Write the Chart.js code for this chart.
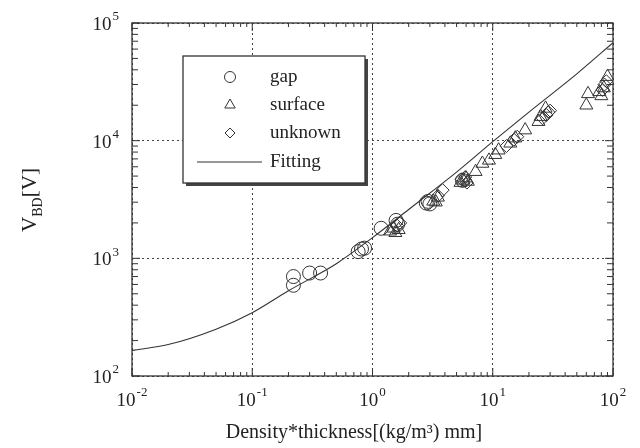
<!DOCTYPE html>
<html>
<head>
<meta charset="utf-8">
<script src="https://cdn.jsdelivr.net/npm/chart.js@4.4.0/dist/chart.umd.min.js"></script>
<style>
  body { margin: 0; background: #fff; }
</style>
</head>
<body>
<canvas id="chart" width="640" height="448"></canvas>
<script>
// data
const gapX = [0.22, 0.22, 0.30, 0.37, 0.76, 0.81, 0.86, 1.18, 1.57, 1.62, 2.8, 2.9, 3.0, 5.6];
const gapY = [700, 590, 750, 750, 1140, 1200, 1220, 1800, 2100, 1950, 2950, 3050, 2900, 4600];

const surfaceX = [1.4, 1.5, 1.55, 1.65, 3.2, 3.36, 3.5, 5.4, 5.7, 6.0, 6.2, 7.2, 8.2, 9.3, 10.5, 11.2, 14, 15.4, 18.6, 24, 25, 27.5, 60, 62, 77, 80, 84, 90];
const surfaceY = [1700, 1800, 1650, 1750, 3050, 3000, 3300, 4400, 4600, 4800, 4500, 5450, 6400, 6800, 7600, 8300, 9500, 10500, 12300, 14500, 16000, 18800, 20000, 25000, 26000, 24000, 28000, 35000];

const unknownX = [1.6, 1.7, 3.5, 3.83, 5.5, 5.9, 6.1, 13, 15, 16, 26, 28, 29, 30, 82, 85, 88];
const unknownY = [1900, 2000, 3400, 3800, 4700, 4900, 4400, 9000, 10200, 10800, 15500, 16500, 17500, 18000, 27000, 30000, 32000];

const fitX = [0.01, 0.02, 0.05, 0.1, 0.2, 0.5, 1, 2, 5, 10, 20, 50, 100];
const fitY = [165, 185, 250, 345, 530, 900, 1500, 2600, 5400, 9800, 17500, 37000, 68000];

const xDecades = [0.01, 0.1, 1, 10, 100];
const xExponents = ["-2", "-1", "0", "1", "2"];
const yDecades = [100, 1000, 10000, 100000];
const yExponents = ["2", "3", "4", "5"];

const INK = "#333";
const SERIF = "'Liberation Serif', 'DejaVu Serif', serif";

function toPoints(xs, ys) {
    return xs.map((x, i) => ({ x: x, y: ys[i] }));
}

function drawPow(ctx, exp, cx, cy, align) {
    ctx.font = "19px " + SERIF;
    const wBase = ctx.measureText("10").width;
    ctx.font = "13px " + SERIF;
    const wExp = ctx.measureText(exp).width;
    const total = wBase + wExp + 1;
    let left = align === "right" ? cx - total : cx - total / 2;
    ctx.textBaseline = "middle";
    ctx.textAlign = "left";
    ctx.font = "19px " + SERIF;
    ctx.fillText("10", left, cy + 2);
    ctx.font = "13px " + SERIF;
    ctx.fillText(exp, left + wBase + 1, cy - 6);
}

const framePlugin = {
    id: "frame",
    afterDraw(chart) {
        const ctx = chart.ctx;
        const a = chart.chartArea;
        const xs = chart.scales.x;
        const ys = chart.scales.y;
        ctx.save();
        ctx.strokeStyle = INK;
        ctx.fillStyle = INK;
        ctx.lineWidth = 1.3;
        ctx.strokeRect(a.left, a.top, a.right - a.left, a.bottom - a.top);

        ctx.lineWidth = 1;
        ctx.beginPath();
        // x ticks top and bottom
        xDecades.forEach((d, i) => {
            const px = xs.getPixelForValue(d);
            ctx.moveTo(px, a.bottom); ctx.lineTo(px, a.bottom - 8);
            ctx.moveTo(px, a.top); ctx.lineTo(px, a.top + 8);
            if (i < xDecades.length - 1) {
                for (let m = 2; m <= 9; m++) {
                    const p = xs.getPixelForValue(d * m);
                    ctx.moveTo(p, a.bottom); ctx.lineTo(p, a.bottom - 4);
                    ctx.moveTo(p, a.top); ctx.lineTo(p, a.top + 4);
                }
            }
        });
        // y ticks left and right
        yDecades.forEach((d, i) => {
            const py = ys.getPixelForValue(d);
            ctx.moveTo(a.left, py); ctx.lineTo(a.left + 8, py);
            ctx.moveTo(a.right, py); ctx.lineTo(a.right - 8, py);
            if (i < yDecades.length - 1) {
                for (let m = 2; m <= 9; m++) {
                    const p = ys.getPixelForValue(d * m);
                    ctx.moveTo(a.left, p); ctx.lineTo(a.left + 6, p);
                    ctx.moveTo(a.right, p); ctx.lineTo(a.right - 6, p);
                }
            }
        });
        ctx.stroke();

        // tick labels
        ctx.fillStyle = "#222";
        xDecades.forEach((d, i) => {
            drawPow(ctx, xExponents[i], xs.getPixelForValue(d), a.bottom + 23, "center");
        });
        yDecades.forEach((d, i) => {
            drawPow(ctx, yExponents[i], a.left - 13, ys.getPixelForValue(d), "right");
        });

        // x title
        ctx.font = "20px " + SERIF;
        ctx.textAlign = "center";
        ctx.textBaseline = "alphabetic";
        ctx.fillText("Density*thickness[(kg/m\u00b3) mm]", 354, 438);

        // y title, rotated
        ctx.translate(36, 200);
        ctx.rotate(-Math.PI / 2);
        ctx.textAlign = "left";
        ctx.font = "21px " + SERIF;
        const wV = ctx.measureText("V").width;
        ctx.font = "14px " + SERIF;
        const wBD = ctx.measureText("BD").width;
        ctx.font = "21px " + SERIF;
        const wB = ctx.measureText("[V]").width;
        let x0 = -(wV + wBD + wB) / 2;
        ctx.fillText("V", x0, 0);
        ctx.font = "14px " + SERIF;
        ctx.fillText("BD", x0 + wV, 6);
        ctx.font = "21px " + SERIF;
        ctx.fillText("[V]", x0 + wV + wBD, 0);
        ctx.restore();

        // legend box
        ctx.save();
        ctx.fillStyle = "#444";
        ctx.fillRect(186, 59, 182, 127);
        ctx.fillStyle = "#fff";
        ctx.fillRect(183, 56, 182, 127);
        ctx.strokeStyle = INK;
        ctx.lineWidth = 1.3;
        ctx.strokeRect(183, 56, 182, 127);
        const rows = [77, 105, 133, 162];
        ctx.font = "19px " + SERIF;
        ctx.textAlign = "left";
        ctx.textBaseline = "middle";
        chart.data.datasets.forEach((ds, i) => {
            ctx.fillStyle = "#222";
            ctx.fillText(ds.label, 270, rows[i]);
            if (ds.showLine) {
                ctx.strokeStyle = INK;
                ctx.lineWidth = 1.1;
                ctx.beginPath();
                ctx.moveTo(197, rows[i]);
                ctx.lineTo(262, rows[i]);
                ctx.stroke();
            } else {
                ctx.strokeStyle = INK;
                ctx.fillStyle = "rgba(0,0,0,0)";
                ctx.lineWidth = 1;
                Chart.helpers.drawPoint(ctx, {
                    pointStyle: ds.pointStyle,
                    radius: ds.pointRadius - 1.5,
                    rotation: 0,
                    borderWidth: 1
                }, 230, rows[i]);
            }
        });
        ctx.restore();
    }
};

function decadeTicks(values) {
    return scale => { scale.ticks = values.map(v => ({ value: v })); };
}

const markerStyle = {
    backgroundColor: "rgba(0,0,0,0)",
    borderColor: INK,
    borderWidth: 1,
    showLine: false
};

new Chart(document.getElementById("chart"), {
    type: "scatter",
    data: {
        datasets: [
            Object.assign({ label: "gap", data: toPoints(gapX, gapY), pointStyle: "circle", pointRadius: 7 }, markerStyle),
            Object.assign({ label: "surface", data: toPoints(surfaceX, surfaceY), pointStyle: "triangle", pointRadius: 7.5 }, markerStyle),
            Object.assign({ label: "unknown", data: toPoints(unknownX, unknownY), pointStyle: "rectRot", pointRadius: 6.5 }, markerStyle),
            {
                label: "Fitting",
                data: toPoints(fitX, fitY),
                showLine: true,
                borderColor: INK,
                borderWidth: 1.1,
                pointRadius: 0,
                cubicInterpolationMode: "monotone",
                fill: false
            }
        ]
    },
    options: {
        responsive: false,
        animation: false,
        layout: { padding: { left: 132, right: 27, top: 23, bottom: 72 } },
        plugins: { legend: { display: false }, tooltip: { enabled: false } },
        scales: {
            x: {
                type: "logarithmic",
                min: 0.01, max: 100,
                afterBuildTicks: decadeTicks(xDecades),
                ticks: { display: false },
                border: { display: false, dash: [2, 3] },
                grid: { color: "#444", lineWidth: 1, drawTicks: false }
            },
            y: {
                type: "logarithmic",
                min: 100, max: 100000,
                afterBuildTicks: decadeTicks(yDecades),
                ticks: { display: false },
                border: { display: false, dash: [2, 3] },
                grid: { color: "#444", lineWidth: 1, drawTicks: false }
            }
        }
    },
    plugins: [framePlugin]
});
</script>
</body>
</html>
